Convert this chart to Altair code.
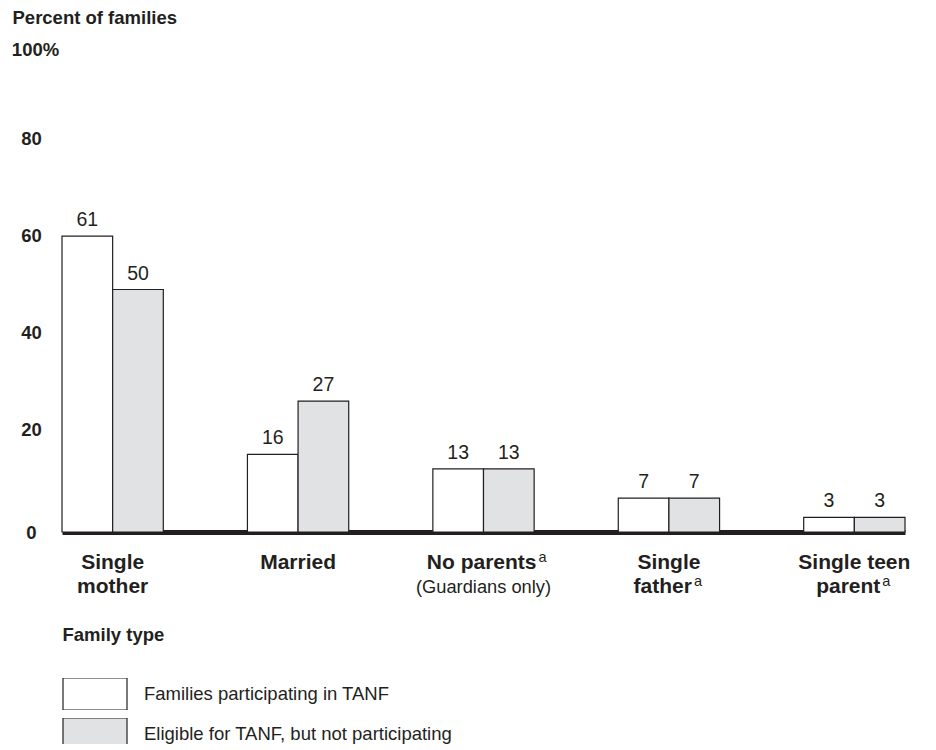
import altair as alt
import pandas as pd

# ---- data ----
families = ["Single mother", "Married", "No parents", "Single father", "Single teen parent"]
series = ["Families participating in TANF", "Eligible for TANF, but not participating"]
participating = [61, 16, 13, 7, 3]
eligible = [50, 27, 13, 7, 3]
y_ticks = [0, 20, 40, 60, 80, 100]

# x-axis label lines (text)
line1_families = ["Single mother", "Married", "Single father", "Single teen parent"]
line1_text = ["Single", "Married", "Single", "Single teen"]
line2_families = ["Single mother"]
line2_text = ["mother"]
sup_families = ["No parents", "Single father", "Single teen parent"]
sup_text = ["No parents", "father", "parent"]
sup_line = [1, 2, 2]
sub_families = ["No parents"]
sub_text = ["(Guardians only)"]
footnote_mark = "a"

# ---- layout / style constants ----
INK = "#231f20"
GREY = "#e1e2e4"
FONT = "Liberation Sans"
LINE_Y = {1: 522, 2: 546}
SUP_RAISE = 7
SUP_RIGHT = {"No parents": 53, "Single father": 23, "Single teen parent": 26}

rows = []
for f, p, e in zip(families, participating, eligible):
    rows.append({"family": f, "series": series[0], "value": p})
    rows.append({"family": f, "series": series[1], "value": e})
df = pd.DataFrame(rows)

x_scale = alt.Scale(domain=families, paddingInner=0.4537, paddingOuter=0)
x_plain = alt.X("family:N", sort=families, scale=x_scale)
x_axis = alt.X(
    "family:N", sort=families, scale=x_scale,
    axis=alt.Axis(
        title="Family type", labels=False, ticks=False, tickSize=0, grid=False,
        domain=True, domainColor=INK, domainWidth=5,
        titleX=0, titleY=108, titleAlign="left", titleAnchor="start",
        titleBaseline="alphabetic", titleFont=FONT, titleFontSize=18.5,
        titleFontWeight="bold", titleColor=INK,
    ),
)
xoff = alt.XOffset("series:N", sort=series, scale=alt.Scale(domain=series, paddingInner=0, paddingOuter=0))

y_enc = alt.Y(
    "value:Q",
    scale=alt.Scale(domain=[0, 100], nice=False, zero=True),
    axis=alt.Axis(
        values=y_ticks, title="Percent of families", titleAngle=0,
        titleX=-50, titleY=-24, titleAlign="left", titleBaseline="alphabetic",
        titleFont=FONT, titleFontSize=18.5, titleFontWeight="bold", titleColor=INK,
        domain=False, ticks=False, tickSize=0, grid=False,
        labelAlign="center", labelBaseline="alphabetic",
        labelPadding={"condition": {"test": "datum.value == 100", "value": 27}, "value": 31},
        labelOffset={"condition": [{"test": "datum.value == 0", "value": 6},
                                   {"test": "datum.value == 100", "value": 8}], "value": 0},
        labelExpr="datum.value == 100 ? '100%' : datum.label",
        labelFont=FONT, labelFontSize=18.5, labelFontWeight="bold", labelColor=INK,
        labelFlush=False, labelOverlap=False,
    ),
)

bars = alt.Chart(df).mark_bar(stroke=INK, strokeWidth=1.2).encode(
    x=x_axis,
    xOffset=xoff,
    y=y_enc,
    fill=alt.Fill(
        "series:N", sort=series,
        scale=alt.Scale(domain=series, range=["#ffffff", GREY]),
        legend=alt.Legend(
            title=None, orient="none", legendX=0, legendY=631, direction="vertical",
            symbolType="M-1,-0.5H1V0.5H-1Z", symbolSize=4096,
            symbolStrokeColor=INK, symbolStrokeWidth=1.2, symbolOpacity=1,
            labelFont=FONT, labelFontSize=18.5, labelColor=INK, labelOffset=16,
            labelLimit=0, rowPadding=8, padding=0, clipHeight=32,
        ),
    ),
)

values = alt.Chart(df).mark_text(
    baseline="alphabetic", dy=-10, font=FONT, fontSize=19.5, color=INK
).encode(x=x_plain, xOffset=xoff, y="value:Q", text="value:Q")


def label_layer(fams, texts, y, **mark):
    d = pd.DataFrame({"family": fams, "text": texts})
    return alt.Chart(d).mark_text(font=FONT, color=INK, baseline="alphabetic", **mark).encode(
        x=x_plain, y=alt.value(y), text="text:N"
    )


layers = [bars, values,
          label_layer(line1_families, line1_text, LINE_Y[1], fontSize=21, fontWeight="bold", align="center"),
          label_layer(line2_families, line2_text, LINE_Y[2], fontSize=21, fontWeight="bold", align="center"),
          label_layer(sub_families, sub_text, LINE_Y[2], fontSize=18.3, align="center")]

for f, t, ln in zip(sup_families, sup_text, sup_line):
    r = SUP_RIGHT[f]
    layers.append(label_layer([f], [t], LINE_Y[ln], fontSize=21, fontWeight="bold", align="right", dx=r))
    layers.append(label_layer([f], [footnote_mark], LINE_Y[ln] - SUP_RAISE, fontSize=14.5, align="left", dx=r + 2))

chart = (
    alt.layer(*layers)
    .properties(
        width=843, height=485, autosize="none",
        padding={"left": 54, "top": 39, "right": 15, "bottom": 212},
    )
    .configure(font=FONT)
    .configure_view(strokeWidth=0, stroke=None)
)

chart.save("out.html", embed_options={"renderer": "svg", "actions": False})
